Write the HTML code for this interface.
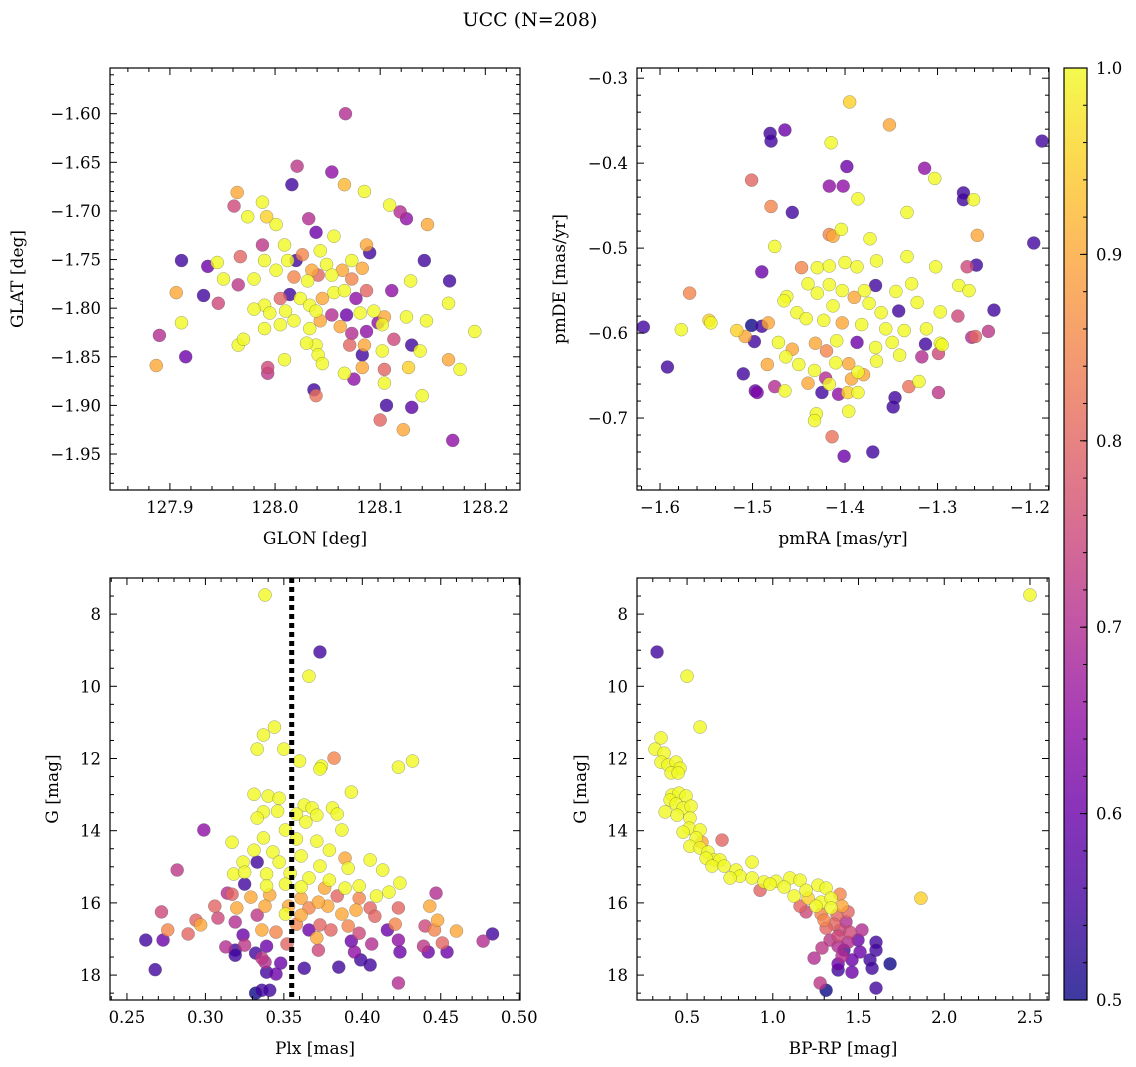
<!DOCTYPE html>
<html><head><meta charset="utf-8"><style>
body{margin:0;background:#fff;}
svg{display:block;font-family:"DejaVu Serif","Liberation Serif",serif;}
</style></head><body>
<svg id="fig" width="1136" height="1067" xmlns="http://www.w3.org/2000/svg">
<text x="530" y="26" font-size="19" text-anchor="middle">UCC (N=208)</text>
</svg>
<script>
// Panel 1: GLON, GLAT, probability
const p1glon=[128.067,128.021,128.054,128.016,128.066,128.085,127.964,127.988,128.109,127.961,127.992,127.974,128.032,128.119,128.125,128.145,128.001,128.039,127.988,128.056,128.087,128.009,128.026,128.043,127.911,127.936,127.945,127.967,127.990,128.012,128.020,128.035,128.049,128.073,128.090,128.142,128.166,127.951,127.965,127.980,128.001,128.018,128.031,128.041,128.054,128.064,128.073,128.083,128.129,127.906,127.932,127.946,127.990,128.005,128.014,128.024,128.033,128.045,128.056,128.066,128.077,128.087,128.111,127.980,127.995,128.010,128.039,128.054,128.068,128.081,128.094,128.104,128.102,128.125,128.165,128.190,127.890,127.911,127.965,127.970,127.990,128.005,128.018,128.033,128.043,128.062,128.073,128.087,128.098,128.113,128.144,128.039,128.030,128.071,128.083,128.085,128.130,127.915,128.009,128.041,128.102,128.138,127.993,127.993,128.045,128.104,128.066,128.075,128.083,127.887,128.127,128.165,128.176,128.037,128.039,128.104,128.140,128.106,128.130,128.100,128.122,128.169];
const p1glat=[-1.600,-1.654,-1.660,-1.673,-1.673,-1.680,-1.681,-1.691,-1.694,-1.695,-1.706,-1.706,-1.708,-1.701,-1.708,-1.714,-1.714,-1.722,-1.735,-1.726,-1.735,-1.735,-1.745,-1.741,-1.751,-1.757,-1.753,-1.747,-1.751,-1.751,-1.751,-1.761,-1.755,-1.751,-1.743,-1.751,-1.772,-1.770,-1.776,-1.770,-1.761,-1.768,-1.772,-1.766,-1.766,-1.761,-1.770,-1.759,-1.772,-1.784,-1.787,-1.795,-1.797,-1.790,-1.786,-1.790,-1.797,-1.790,-1.784,-1.782,-1.790,-1.782,-1.782,-1.801,-1.805,-1.803,-1.803,-1.807,-1.807,-1.805,-1.803,-1.809,-1.817,-1.809,-1.795,-1.824,-1.828,-1.815,-1.838,-1.832,-1.821,-1.817,-1.813,-1.821,-1.813,-1.819,-1.826,-1.824,-1.815,-1.832,-1.813,-1.838,-1.836,-1.838,-1.848,-1.838,-1.838,-1.850,-1.853,-1.848,-1.844,-1.844,-1.861,-1.867,-1.857,-1.863,-1.867,-1.873,-1.861,-1.859,-1.861,-1.853,-1.863,-1.884,-1.890,-1.877,-1.890,-1.900,-1.902,-1.915,-1.925,-1.936];
const p1prob=[.7,.72,.65,.55,.92,1,.9,1,1,.75,.95,1,.7,.7,.65,.9,1,.6,.72,1,.9,1,.85,1,.55,.6,1,.8,1,1,.55,.9,1,1,.55,.55,.55,1,.72,1,1,.85,1,.8,1,.9,.85,.9,1,.9,.55,.75,1,.8,.55,1,1,.9,1,1,.65,.8,.65,1,1,1,1,.7,.6,1,1,.9,1,1,1,1,.7,1,1,1,1,1,1,1,.9,.9,.7,.65,.65,.75,1,1,1,.8,.55,.9,.55,.6,1,1,1,1,.75,.72,1,.8,1,.65,.9,.9,.95,.9,1,.55,.82,1,1,.55,.58,.8,.9,.65];
// Panel 2: pmRA, pmDE, probability
const p2pmra=[-1.395,-1.352,-1.465,-1.481,-1.480,-1.187,-1.415,-1.314,-1.398,-1.303,-1.501,-1.417,-1.402,-1.386,-1.272,-1.272,-1.261,-1.480,-1.457,-1.333,-1.476,-1.196,-1.417,-1.413,-1.404,-1.373,-1.257,-1.490,-1.447,-1.430,-1.417,-1.400,-1.387,-1.366,-1.333,-1.302,-1.268,-1.258,-1.568,-1.440,-1.430,-1.417,-1.403,-1.390,-1.379,-1.367,-1.345,-1.328,-1.277,-1.266,-1.463,-1.466,-1.452,-1.413,-1.374,-1.361,-1.342,-1.322,-1.297,-1.545,-1.618,-1.547,-1.517,-1.501,-1.490,-1.483,-1.442,-1.423,-1.403,-1.382,-1.356,-1.336,-1.312,-1.278,-1.239,-1.577,-1.592,-1.508,-1.498,-1.472,-1.457,-1.432,-1.420,-1.409,-1.387,-1.367,-1.349,-1.313,-1.297,-1.295,-1.263,-1.259,-1.245,-1.510,-1.484,-1.464,-1.450,-1.433,-1.421,-1.410,-1.396,-1.386,-1.366,-1.341,-1.317,-1.299,-1.476,-1.440,-1.417,-1.393,-1.380,-1.331,-1.320,-1.497,-1.495,-1.425,-1.407,-1.397,-1.386,-1.346,-1.299,-1.465,-1.348,-1.396,-1.431,-1.433,-1.414,-1.370,-1.401];
const p2pmde=[-0.328,-0.355,-0.361,-0.365,-0.374,-0.374,-0.376,-0.406,-0.404,-0.418,-0.420,-0.427,-0.427,-0.442,-0.435,-0.443,-0.443,-0.451,-0.458,-0.458,-0.498,-0.494,-0.484,-0.486,-0.478,-0.489,-0.485,-0.528,-0.523,-0.523,-0.521,-0.517,-0.522,-0.515,-0.510,-0.522,-0.522,-0.520,-0.553,-0.542,-0.553,-0.543,-0.550,-0.558,-0.550,-0.544,-0.551,-0.542,-0.544,-0.550,-0.557,-0.562,-0.576,-0.568,-0.565,-0.576,-0.574,-0.564,-0.575,-0.588,-0.593,-0.585,-0.597,-0.591,-0.592,-0.588,-0.583,-0.585,-0.588,-0.590,-0.595,-0.597,-0.595,-0.580,-0.573,-0.596,-0.640,-0.604,-0.610,-0.611,-0.619,-0.612,-0.621,-0.609,-0.611,-0.617,-0.611,-0.613,-0.612,-0.614,-0.605,-0.604,-0.598,-0.648,-0.637,-0.628,-0.637,-0.644,-0.653,-0.635,-0.636,-0.646,-0.633,-0.626,-0.628,-0.624,-0.663,-0.659,-0.660,-0.654,-0.649,-0.663,-0.657,-0.668,-0.670,-0.670,-0.672,-0.670,-0.670,-0.676,-0.670,-0.668,-0.687,-0.692,-0.695,-0.703,-0.722,-0.740,-0.745];
const p2prob=[.95,.9,.6,.55,.55,.55,1,.65,.6,1,.8,.65,.65,1,.55,.55,1,.85,.55,1,1,.55,.85,.9,1,1,.9,.6,.85,1,1,1,1,1,1,1,.75,.55,.85,1,1,1,1,.9,1,.55,1,1,1,1,1,1,1,1,1,1,.55,1,1,1,.55,.95,.95,.5,.55,.9,1,1,.9,1,1,1,1,.75,.55,1,.55,.9,.55,1,.9,.9,.85,1,.6,1,1,.55,1,1,.7,.8,.72,.55,.9,1,1,1,.7,1,.9,1,1,1,.7,.75,.7,.9,1,.9,.9,.82,1,.6,.62,.55,.65,.95,1,.55,.72,1,.55,1,1,1,.82,.55,.6];
// Panel 3: Plx, G, probability
const p3plx=[0.338,0.373,0.366,0.344,0.337,0.333,0.350,0.382,0.432,0.360,0.374,0.373,0.423,0.299,0.282,0.331,0.340,0.347,0.393,0.363,0.368,0.381,0.337,0.346,0.358,0.371,0.384,0.333,0.364,0.387,0.351,0.317,0.337,0.358,0.371,0.331,0.343,0.379,0.361,0.389,0.405,0.324,0.333,0.347,0.373,0.391,0.318,0.325,0.339,0.354,0.366,0.379,0.413,0.325,0.339,0.351,0.361,0.376,0.389,0.398,0.424,0.447,0.417,0.329,0.341,0.317,0.314,0.361,0.384,0.398,0.409,0.443,0.306,0.320,0.338,0.353,0.366,0.378,0.396,0.405,0.423,0.372,0.333,0.351,0.361,0.387,0.408,0.294,0.308,0.319,0.272,0.297,0.358,0.373,0.391,0.421,0.440,0.448,0.336,0.345,0.366,0.380,0.398,0.289,0.276,0.324,0.371,0.416,0.460,0.446,0.262,0.273,0.268,0.325,0.339,0.352,0.393,0.406,0.423,0.439,0.451,0.313,0.319,0.319,0.332,0.372,0.395,0.424,0.442,0.454,0.477,0.483,0.336,0.338,0.348,0.385,0.399,0.405,0.339,0.345,0.423,0.336,0.341,0.332,0.363];
const p3g=[7.47,9.05,9.72,11.13,11.35,11.74,11.74,11.99,12.07,12.07,12.21,12.29,12.24,13.98,15.09,12.99,13.04,13.10,12.93,13.29,13.37,13.37,13.48,13.46,13.54,13.57,13.54,13.65,13.76,13.98,13.98,14.32,14.20,14.23,14.29,14.54,14.59,14.54,14.70,14.76,14.81,14.87,14.87,14.87,14.98,15.04,15.20,15.15,15.20,15.18,15.31,15.37,15.09,15.48,15.53,15.48,15.56,15.59,15.59,15.53,15.45,15.73,15.70,15.84,15.78,15.76,15.73,15.87,15.81,15.87,15.81,16.09,16.09,16.14,16.09,16.09,16.14,16.09,16.20,16.14,16.14,15.98,16.34,16.31,16.34,16.31,16.37,16.48,16.42,16.53,16.25,16.61,16.59,16.61,16.64,16.59,16.64,16.48,16.75,16.81,16.75,16.75,16.84,16.86,16.75,16.89,16.97,16.75,16.78,16.75,17.03,17.03,17.85,17.17,17.20,17.14,17.06,17.14,17.03,17.20,17.11,17.22,17.31,17.45,17.39,17.31,17.36,17.36,17.36,17.36,17.06,16.86,17.53,17.64,17.67,17.78,17.58,17.72,17.92,17.97,18.22,18.42,18.42,18.50,17.81];
const p3prob=[1,.55,1,1,1,1,1,.85,1,1,1,1,1,.65,.72,1,1,1,1,1,1,1,1,1,1,1,1,1,1,1,1,1,1,1,1,1,1,1,1,.9,1,1,.55,1,1,1,1,1,1,1,1,1,1,.55,1,1,1,.9,1,1,1,.7,1,.9,.9,.8,.7,.9,.8,.85,1,.9,.8,.9,.9,.9,.85,.9,.9,.8,.8,.9,.72,1,.9,.9,.8,.8,.75,.7,.75,.9,.85,.8,.85,.85,.75,.9,.9,.85,.6,.8,.75,.8,.85,.6,.9,.6,.9,.85,.55,.6,.55,.72,.6,.8,.6,.7,.65,.72,.8,.7,.55,.55,.55,.75,.65,.6,.6,.6,.7,.55,.72,.7,.6,.55,.55,.55,.55,.6,.7,.55,.55,.5,.55];
// Panel 4: BP-RP, G, probability
const p4bprp=[2.50,0.325,0.50,0.576,0.348,0.313,0.366,0.348,0.389,0.436,0.459,0.407,0.448,0.412,0.453,0.494,0.401,0.436,0.477,0.523,0.372,0.442,0.517,0.512,0.576,0.553,0.587,0.704,0.477,0.517,0.576,0.622,0.657,0.611,0.692,0.646,0.716,0.786,0.879,0.809,0.879,0.751,0.949,1.019,1.10,1.159,0.984,0.926,1.066,1.194,1.264,1.311,1.392,1.124,1.206,1.282,1.340,1.252,1.159,1.340,1.404,1.194,1.282,1.375,1.439,1.864,1.299,1.357,1.427,1.311,1.392,1.450,1.520,1.381,1.334,1.439,1.497,1.602,1.381,1.287,1.415,1.509,1.602,1.404,1.462,1.567,1.684,1.381,1.579,1.462,1.276,1.602,1.311,1.381,1.241];
const p4g=[7.47,9.05,9.72,11.13,11.43,11.74,11.85,12.10,12.18,12.10,12.27,12.40,12.40,13.01,12.96,13.04,13.15,13.26,13.37,13.32,13.48,13.57,13.65,13.93,13.98,14.20,14.32,14.26,14.04,14.43,14.48,14.59,14.81,14.76,14.81,14.98,14.98,15.09,14.87,15.26,15.31,15.31,15.42,15.40,15.31,15.37,15.48,15.65,15.56,15.65,15.51,15.59,15.76,15.81,15.87,15.98,15.87,16.09,16.09,16.14,16.09,16.25,16.31,16.34,16.25,15.87,16.48,16.59,16.53,16.70,16.75,16.81,16.75,16.92,17.03,17.09,17.03,17.09,17.20,17.25,17.31,17.36,17.31,17.47,17.58,17.58,17.69,17.69,17.81,17.92,18.22,18.36,18.42,17.86,17.53];
const p4prob=[1,.55,1,1,1,1,1,1,1,1,1,1,1,1,1,1,1,1,1,1,1,1,1,1,1,1,.9,.8,1,1,1,1,1,1,1,1,1,1,1,1,1,1,1,1,1,1,1,.8,1,1,1,1,.85,1,.95,1,1,1,.8,1,.9,.75,.85,.8,.8,.95,.85,.8,.7,.8,.75,.75,.7,.75,.72,.7,.6,.55,.7,.72,.55,.6,.55,.7,.6,.55,.5,.6,.55,.6,.72,.55,.5,.55,.7];
const plxLine=0.355;
const cbTicks=[0.5,0.6,0.7,0.8,0.9,1.0];

const NS='http://www.w3.org/2000/svg';
const svg=document.getElementById('fig');
function mk(tag,attrs,parent){const e=document.createElementNS(NS,tag);for(const k in attrs)e.setAttribute(k,attrs[k]);(parent||svg).appendChild(e);return e;}
const stops=[[13,8,135],[65,4,157],[106,0,168],[143,13,164],[177,42,144],[204,71,120],[225,100,98],[242,132,75],[252,166,54],[252,206,37],[240,249,33]];
function plasma(t){t=Math.max(0,Math.min(1,t))*10;const i=Math.min(9,Math.floor(t)),f=t-i;const a=stops[i],b=stops[i+1];return 'rgb('+a.map((v,k)=>Math.round(v+(b[k]-v)*f)).join(',')+')';}
function fmt(v,d){return (v<0?'\u2212':'')+Math.abs(v).toFixed(d);}
const TICK=16.5, LAB=17;

function panel(name,L,T,W,H,xmin,xmax,ymin,ymax,yInvert,xMaj,xMin,yMaj,yMin,xd,yd,xlabel,ylabel,ylabX,xs,ys,ps){
  const g=mk('g',{});
  
  
  const X=v=>L+(v-xmin)/(xmax-xmin)*W;
  const Y=v=>yInvert? T+(v-ymin)/(ymax-ymin)*H : T+H-(v-ymin)/(ymax-ymin)*H;
  const pts=g.appendChild(document.createElementNS(NS,'g'));
  
  
  const idx=xs.map((_,i)=>i).sort((a,b)=>ps[a]-ps[b]);
  idx.forEach(i=>{
    const c=mk('circle',{cx:X(xs[i]),cy:Y(ys[i]),r:6.5,fill:plasma((ps[i]-0.5)/0.5),'fill-opacity':0.8,stroke:'#555','stroke-width':0.4,'stroke-opacity':0.7},pts);
    
    
  });
  return {g,X,Y,after(){
    const fr=mk('rect',{x:L,y:T,width:W,height:H,fill:'none',stroke:'#000','stroke-width':1.2},g);
    
    
    const eps=1e-9;
    for(let k=Math.ceil(xmin/xMin-eps); k*xMin<=xmax+eps; k++){
      const v=k*xMin;const x=X(v);const major=Math.abs(v/xMaj-Math.round(v/xMaj))<1e-6;const len=major?7:4;
      mk('line',{x1:x,x2:x,y1:T+H,y2:T+H-len,stroke:'#000','stroke-width':1},g);
      mk('line',{x1:x,x2:x,y1:T,y2:T+len,stroke:'#000','stroke-width':1},g);
      if(major){const t=mk('text',{x:x,y:T+H+23,'font-size':TICK,'text-anchor':'middle'},g);t.textContent=fmt(v,xd);
        
        }
    }
    for(let k=Math.ceil(ymin/yMin-eps); k*yMin<=ymax+eps; k++){
      const v=k*yMin;const y=Y(v);const major=Math.abs(v/yMaj-Math.round(v/yMaj))<1e-6;const len=major?7:4;
      mk('line',{x1:L,x2:L+len,y1:y,y2:y,stroke:'#000','stroke-width':1},g);
      mk('line',{x1:L+W,x2:L+W-len,y1:y,y2:y,stroke:'#000','stroke-width':1},g);
      if(major){const t=mk('text',{x:L-9,y:y+6,'font-size':TICK,'text-anchor':'end'},g);t.textContent=fmt(v,yd);
        
        }
    }
    const xl=mk('text',{x:L+W/2,y:T+H+54,'font-size':LAB,'text-anchor':'middle'},g);xl.textContent=xlabel;
    
    
    const yl=mk('text',{x:ylabX,y:T+H/2,'font-size':LAB,'text-anchor':'middle',transform:'rotate(-90 '+ylabX+' '+(T+H/2)+')'},g);yl.textContent=ylabel;
    
    
  }};
}
let p=panel('glon-glat-panel',110,68,410,422,127.843,128.233,-1.987,-1.553,false,0.1,0.02,0.05,0.01,1,2,'GLON [deg]','GLAT [deg]',23,p1glon,p1glat,p1prob);p.after();
p=panel('pmra-pmde-panel',637,68,412,422,-1.6249,-1.1795,-0.7847,-0.288,false,0.1,0.02,0.1,0.02,1,1,'pmRA [mas/yr]','pmDE [mas/yr]',565,p2pmra,p2pmde,p2prob);p.after();
p=panel('plx-g-panel',110,578,410,422,0.2392,0.5005,7.0,18.69,true,0.05,0.01,2,0.5,2,0,'Plx [mas]','G [mag]',58,p3plx,p3g,p3prob);
const dl=mk('line',{x1:p.X(plxLine),x2:p.X(plxLine),y1:578,y2:1000,stroke:'#000','stroke-width':5,'stroke-dasharray':'5 4'},p.g);


p.after();
p=panel('color-magnitude-panel',637,578,412,422,0.208,2.611,7.0,18.69,true,0.5,0.1,2,0.5,1,0,'BP-RP [mag]','G [mag]',586,p4bprp,p4g,p4prob);p.after();

// colorbar
const cb=mk('g',{});


const defs=mk('defs',{},cb);
const lg=mk('linearGradient',{id:'pg',x1:0,y1:1,x2:0,y2:0},defs);
for(let i=0;i<=10;i++)mk('stop',{offset:i/10,'stop-color':plasma(i/10)},lg);
const CT=68,CB=1000,CL=1064,CW=23;
mk('rect',{x:CL,y:CT,width:CW,height:CB-CT,fill:'url(#pg)','fill-opacity':0.8},cb);
mk('rect',{x:CL,y:CT,width:CW,height:CB-CT,fill:'none',stroke:'#000','stroke-width':1.2},cb);
const cY=v=>CB-(v-0.5)/0.5*(CB-CT);
for(let k=25;k<=50;k++){const v=k*0.02;mk('line',{x1:CL+CW,x2:CL+CW-4,y1:cY(v),y2:cY(v),stroke:'#000'},cb);}
cbTicks.forEach(v=>{mk('line',{x1:CL+CW,x2:CL+CW-7,y1:cY(v),y2:cY(v),stroke:'#000'},cb);
  const t=mk('text',{x:CL+CW+9,y:cY(v)+6,'font-size':TICK},cb);t.textContent=v.toFixed(1);
  
  });
</script>
</body></html>
